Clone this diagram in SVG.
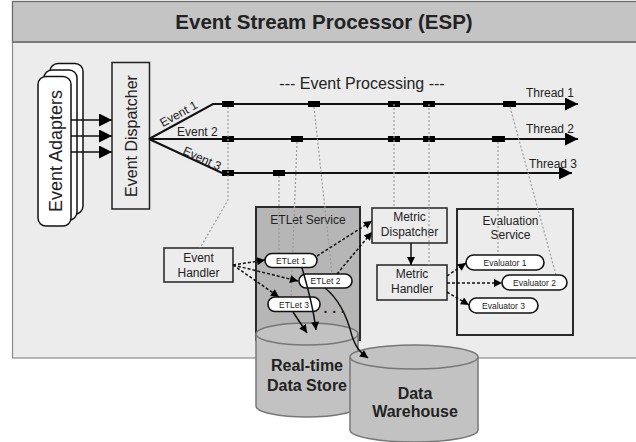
<svg xmlns="http://www.w3.org/2000/svg" width="636" height="442" viewBox="0 0 636 442">
  <defs>
    <style>
      text { font-family: "Liberation Sans", Arial, sans-serif; fill: #222; }
      .box { fill: #ececec; stroke: #222; stroke-width: 1.5; }
      .pill { fill: #fff; stroke: #111; stroke-width: 1.6; }
      .lbl { font-size: 12px; text-anchor: middle; }
      .small { font-size: 8.5px; text-anchor: middle; }
      .drop { fill: none; stroke: #9a9a9a; stroke-width: 1.2; stroke-dasharray: 2 2; }
      .flow { fill: none; stroke: #111; stroke-width: 1.5; stroke-dasharray: 3 2; }
      .solid { fill: none; stroke: #111; stroke-width: 1.5; }
      .thread { fill: none; stroke: #111; stroke-width: 2; }
      .tick { fill: #000; }
      .db { fill: #c2c2c2; stroke: #777; stroke-width: 1.5; }
      .dbtxt { font-size: 16px; font-weight: bold; text-anchor: middle; }
    </style>
    <marker id="tri" viewBox="0 0 10 10" refX="10" refY="5" markerWidth="10" markerHeight="8" markerUnits="userSpaceOnUse" orient="auto">
      <path d="M0,0 L10,5 L0,10 z" fill="#000"/>
    </marker>
    <marker id="big" viewBox="0 0 10 10" refX="10" refY="5" markerWidth="20" markerHeight="13" markerUnits="userSpaceOnUse" orient="auto">
      <path d="M0,0 L10,5 L0,10 z" fill="#000"/>
    </marker>
  </defs>

  <!-- outer frame and title band -->
  <g id="frame">
    <rect x="12.5" y="1.5" width="640" height="356.5" fill="#ececec" stroke="#8c8c8c" stroke-width="1.2"/>
    <rect x="12.5" y="1.5" width="640" height="40.5" fill="#c4c4c4" stroke="#6a6a6a" stroke-width="1.2"/>
    <line x1="12.5" y1="42" x2="636" y2="42" stroke="#7a7a7a" stroke-width="2"/>
    <text x="324" y="29" font-size="20.5" font-weight="bold" text-anchor="middle" fill="#333">Event Stream Processor (ESP)</text>
  </g>

  <!-- event adapters (stacked) -->
  <g id="event-adapters">
    <rect x="50" y="63.5" width="33" height="150.5" rx="8" fill="#fff" stroke="#111" stroke-width="1.5"/>
    <rect x="44" y="70" width="33" height="150" rx="8" fill="#fff" stroke="#111" stroke-width="1.5"/>
    <rect x="38" y="76.5" width="33" height="149.5" rx="8" fill="#fff" stroke="#111" stroke-width="1.5"/>
    <text transform="translate(61.5,151) rotate(-90)" font-size="18" text-anchor="middle">Event Adapters</text>
  </g>

  <!-- event dispatcher -->
  <g id="event-dispatcher">
    <rect class="box" x="112" y="62.5" width="37.5" height="146.5"/>
    <text transform="translate(136.5,136) rotate(-90)" font-size="16" text-anchor="middle">Event Dispatcher</text>
  </g>

  <!-- processing threads -->
  <g id="threads">
    <text x="362" y="89" font-size="16" text-anchor="middle">--- Event Processing ---</text>
    <path class="thread" d="M149,139 L213,104 L578,104" marker-end="url(#big)"/>
    <path class="thread" d="M149,139 L578,139" marker-end="url(#big)"/>
    <path class="thread" d="M149,139 L222,173 L572,173" marker-end="url(#big)"/>
    <text x="550" y="97" font-size="12" text-anchor="middle">Thread 1</text>
    <text x="550" y="133" font-size="12" text-anchor="middle">Thread 2</text>
    <text x="553" y="168" font-size="12" text-anchor="middle">Thread 3</text>
    <text transform="translate(182,120) rotate(-28.7)" y="-3" font-size="12" text-anchor="middle">Event 1</text>
    <text x="177" y="136" font-size="12">Event 2</text>
    <text transform="translate(200,163) rotate(25)" y="-1" font-size="12" text-anchor="middle">Event 3</text>
    <!-- event ticks -->
    <rect class="tick" x="222" y="101" width="12" height="6"/>
    <rect class="tick" x="308" y="101" width="12" height="6"/>
    <rect class="tick" x="388" y="101" width="12" height="6"/>
    <rect class="tick" x="423" y="101" width="12" height="6"/>
    <rect class="tick" x="503" y="101" width="13" height="6"/>
    <rect class="tick" x="222" y="136" width="12" height="6"/>
    <rect class="tick" x="291" y="136" width="12" height="6"/>
    <rect class="tick" x="388" y="136" width="12" height="6"/>
    <rect class="tick" x="423" y="136" width="12" height="6"/>
    <rect class="tick" x="492" y="136" width="13" height="6"/>
    <rect class="tick" x="222" y="170" width="12" height="6"/>
    <rect class="tick" x="273" y="170" width="12" height="6"/>
  </g>

  <!-- ETLet service -->
  <g id="etlet-service">
    <rect x="256" y="207" width="104" height="133" fill="#b6b6b6" stroke="#2a2a2a" stroke-width="2"/>
    <text class="lbl" x="308" y="224">ETLet Service</text>
  </g>

  <!-- data stores -->
  <g id="realtime-store">
    <path class="db" d="M256,334 L256,406 A51,11 0 0 0 358,406 L358,334"/>
    <ellipse class="db" cx="307" cy="334" rx="51" ry="11"/>
    <text class="dbtxt" x="307" y="371">Real-time</text>
    <text class="dbtxt" x="307" y="391">Data Store</text>
  </g>
  <g id="data-warehouse">
    <path class="db" d="M350,357 L350,430 A64,12 0 0 0 478,430 L478,357"/>
    <ellipse class="db" cx="414" cy="357" rx="64" ry="12"/>
    <text class="dbtxt" x="415" y="399">Data</text>
    <text class="dbtxt" x="415" y="417">Warehouse</text>
  </g>

  <!-- event handler -->
  <g id="event-handler">
    <rect class="box" x="164" y="248" width="69" height="34"/>
    <text class="lbl" x="198.5" y="262">Event</text>
    <text class="lbl" x="198.5" y="277">Handler</text>
  </g>

  <!-- metric dispatcher / handler -->
  <g id="metric-dispatcher">
    <rect class="box" x="372" y="208" width="75" height="35"/>
    <text class="lbl" x="409.5" y="221">Metric</text>
    <text class="lbl" x="409.5" y="236">Dispatcher</text>
  </g>
  <g id="metric-handler">
    <rect class="box" x="377" y="265" width="70" height="35"/>
    <text class="lbl" x="412" y="278">Metric</text>
    <text class="lbl" x="412" y="293">Handler</text>
  </g>

  <!-- evaluation service -->
  <g id="evaluation-service">
    <rect x="457" y="209" width="116" height="126" fill="#ececec" stroke="#2a2a2a" stroke-width="2"/>
    <text class="lbl" x="510.5" y="225">Evaluation</text>
    <text class="lbl" x="510.5" y="239">Service</text>
  </g>

  <!-- drop lines from the event ticks to their handlers -->
  <g id="drop-lines">
    <path class="drop" d="M228,107 L228,200 L200,248"/>
    <path class="drop" d="M279,176 L279,254"/>
    <path class="drop" d="M297,142 L291,297"/>
    <path class="drop" d="M314,107 L332,274"/>
    <path class="drop" d="M394,104 L394,208"/>
    <path class="drop" d="M429,104 L429,265"/>
    <path class="drop" d="M498,142 L498,255"/>
    <path class="drop" d="M510,107 L556,275"/>
  </g>

  <!-- ETLets and evaluators -->
  <g id="etlet-1"><rect class="pill" x="265" y="253.5" width="52" height="14" rx="7"/><text class="small" x="291" y="263.5">ETLet 1</text></g>
  <g id="etlet-2"><rect class="pill" x="299" y="274" width="53" height="14" rx="7"/><text class="small" x="325.5" y="284">ETLet 2</text></g>
  <g id="etlet-3"><rect class="pill" x="268" y="297" width="52" height="14.5" rx="7"/><text class="small" x="294" y="307.5">ETLet 3</text></g>
  <g id="evaluator-1"><rect class="pill" x="466" y="255" width="78" height="15" rx="7.5"/><text class="small" x="505" y="265.5">Evaluator 1</text></g>
  <g id="evaluator-2"><rect class="pill" x="502" y="275" width="65" height="15" rx="7.5"/><text class="small" x="534.5" y="285.5">Evaluator 2</text></g>
  <g id="evaluator-3"><rect class="pill" x="469" y="298" width="69" height="15" rx="7.5"/><text class="small" x="503.5" y="308.5">Evaluator 3</text></g>

  <!-- connectors -->
  <g id="connectors">
    <line class="solid" x1="71" y1="120" x2="112" y2="120" marker-end="url(#big)"/>
    <line class="solid" x1="71" y1="136" x2="112" y2="136" marker-end="url(#big)"/>
    <line class="solid" x1="71" y1="152" x2="112" y2="152" marker-end="url(#big)"/>

    <path class="flow" d="M233,265 L265,260" marker-end="url(#tri)"/>
    <path class="flow" d="M233,265 L298,281" marker-end="url(#tri)"/>
    <path class="flow" d="M233,265 L279,297" marker-end="url(#tri)"/>
    <path class="flow" d="M317,256 L372,221" marker-end="url(#tri)"/>
    <path class="flow" d="M337,274 L372,232" marker-end="url(#tri)"/>
    <path class="flow" d="M447,276 L466,263" marker-end="url(#tri)"/>
    <path class="flow" d="M447,283 L502,283" marker-end="url(#tri)"/>
    <path class="flow" d="M447,292 L469,305" marker-end="url(#tri)"/>

    <path class="solid" d="M411,243 L411,265" marker-end="url(#tri)"/>
    <path class="solid" d="M302,268 C307,285 313,305 316,330" marker-end="url(#tri)"/>
    <path class="solid" d="M293,312 L307,333" marker-end="url(#tri)"/>
    <path class="solid" d="M325,288 C340,300 348,320 352,336 C356,348 360,352 368,358" marker-end="url(#tri)"/>

    <text x="334.5" y="317" font-size="14" font-weight="bold" text-anchor="middle">· · ·</text>
  </g>
</svg>
